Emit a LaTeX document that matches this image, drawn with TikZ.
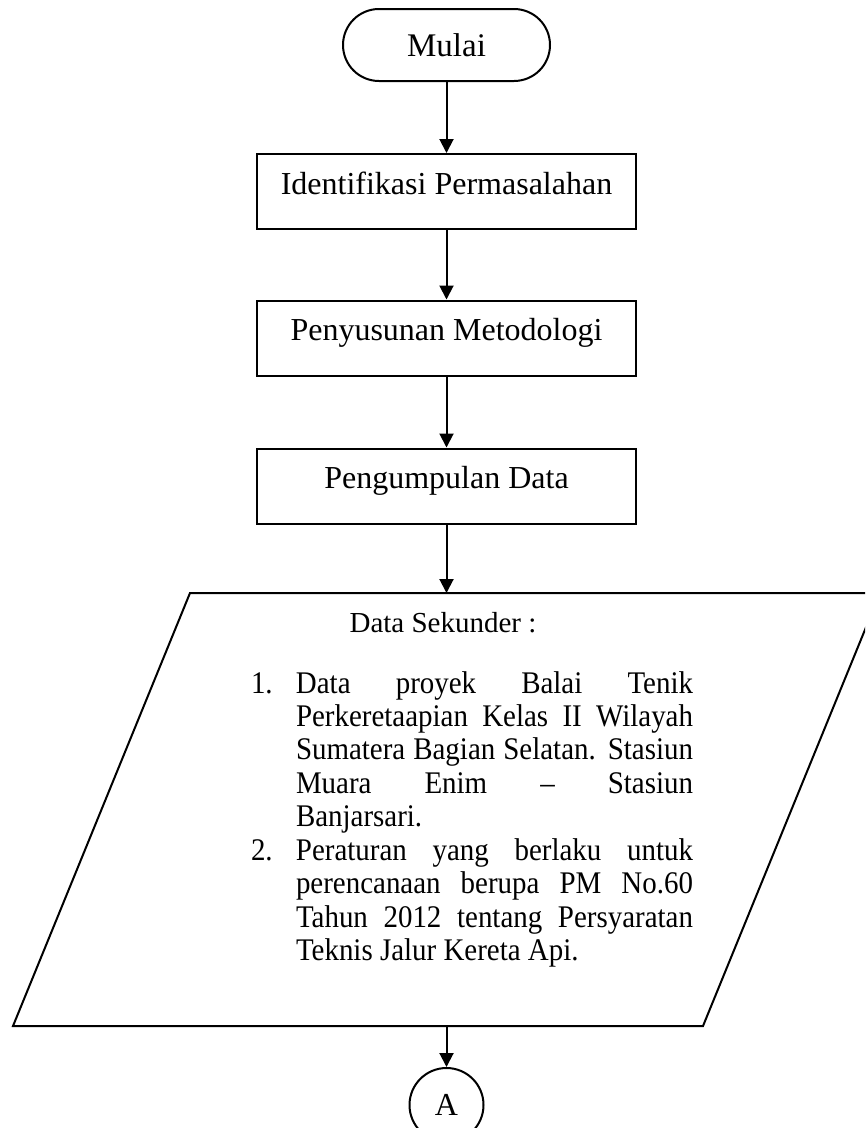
\documentclass[tikz,border=0pt]{standalone}
\usepackage{fontspec}
\setmainfont{Liberation Serif}
\newfontfamily\condfont[FakeStretch=0.92]{Liberation Serif}
\usetikzlibrary{arrows.meta,calc}
\begin{document}
\begin{tikzpicture}[x=0.75pt,y=-0.75pt,
  line width=1.5pt,
  flow/.style={-{Triangle[length=10.5pt,width=10.5pt]}},
  terminal/.style={draw, rectangle, rounded corners=27pt, minimum width=155.25pt,
    minimum height=54pt, inner sep=0pt, font=\fontsize{24.75pt}{28pt}\selectfont},
  process/.style={draw, rectangle, minimum width=284.25pt, minimum height=56.25pt,
    inner sep=0pt, text height=8pt, text depth=4.25pt, font=\fontsize{24pt}{28pt}\selectfont},
  connector/.style={draw, circle, minimum size=55.5pt, inner sep=0pt,
    font=\fontsize{24pt}{28pt}\selectfont},
  datazone/.style={rectangle, inner sep=0pt, minimum width=516pt, minimum height=323.25pt},
  headtext/.style={inner sep=0pt, font=\fontsize{21.75pt}{26pt}\selectfont},
  listtext/.style={inner sep=0pt, text width=331.5pt, align=justify,
    font=\condfont\fontsize{23.6pt}{25.1pt}\selectfont}
]
\useasboundingbox (0,0) rectangle (865,1128);
\clip (0,0) rectangle (865,1128);

\node[terminal] (mulai) at (446.5,45) {Mulai};
\node[process] (b1) at (446.5,191.5) {Identifikasi Permasalahan};
\node[process] (b2) at (446.5,338) {Penyusunan Metodologi};
\node[process] (b3) at (446.5,486) {Pengumpulan Data};
\node[datazone] (data) at (446.5,809.5) {};
\node[connector] (A) at (446.5,1105) {A};

\draw ($(data.north west)+(88.5,0)$) -- ($(data.north east)+(88.5,0)$)
  -- ($(data.south east)+(-88.5,0)$) -- ($(data.south west)+(-88.5,0)$) -- cycle;

\node[headtext, anchor=base] (hdr) at (443,632) {Data Sekunder :};
\node[listtext, anchor=base west] (list) at (250,693) {%
\hangindent=33.75pt \hangafter=1 \noindent\makebox[33.75pt][l]{1.}Data proyek Balai Tenik\linebreak
Perkeretaapian Kelas II Wilayah\linebreak
Sumatera Bagian Selatan. Stasiun\linebreak
Muara Enim \textendash{} Stasiun\linebreak
Banjarsari.\par
\hangindent=33.75pt \hangafter=1 \noindent\makebox[33.75pt][l]{2.}Peraturan yang berlaku untuk\linebreak
perencanaan berupa PM No.60\linebreak
Tahun 2012 tentang Persyaratan\linebreak
Teknis Jalur Kereta Api.\par};

\draw[flow] (mulai) -- (b1);
\draw[flow] (b1) -- (b2);
\draw[flow] (b2) -- (b3);
\draw[flow] (b3) -- (data);
\draw[flow] (data) -- (A);
\end{tikzpicture}
\end{document}
